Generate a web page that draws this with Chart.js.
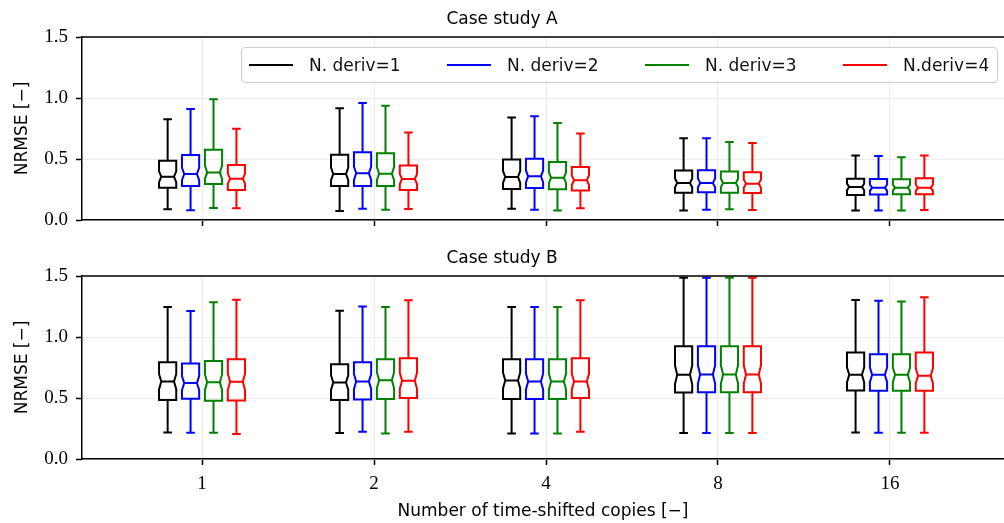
<!DOCTYPE html>
<html>
<head>
<meta charset="utf-8">
<script src="https://cdn.jsdelivr.net/npm/chart.js@4.4.1/dist/chart.umd.min.js"></script>
<style>
  body { margin: 0; background: #fff; }
  #wrap { position: relative; width: 1004px; height: 523px; overflow: hidden; }
  #wrap canvas { position: absolute; left: 0; }
  #legend {
    position: absolute; left: 241px; top: 47px; width: 757px; height: 36px;
    box-sizing: border-box; border: 1px solid #cfcfcf; border-radius: 4px;
    background: rgba(255,255,255,0.8);
    font-family: "DejaVu Sans", sans-serif; font-size: 17px; color: #111;
  }
  .item { position: absolute; top: 0; height: 34px; display: flex; align-items: center; }
  .item span.line { display: inline-block; width: 44px; height: 2px; margin-right: 16px; }
</style>
</head>
<body>
<div id="wrap">
  <canvas id="chartA" width="1004" height="240" style="top:0"></canvas>
  <canvas id="chartB" width="1004" height="283" style="top:240px"></canvas>
  <div id="legend"></div>
</div>
<script>
const copies = ['1', '2', '4', '8', '16'];
const seriesNames = ['N. deriv=1', 'N. deriv=2', 'N. deriv=3', 'N.deriv=4'];
const seriesColors = ['#000000', '#0000ff', '#008000', '#ff0000'];

// Case study A, one row per series, one column per group (1, 2, 4, 8, 16)
const aLow = [
  [0.088, 0.074, 0.093, 0.077, 0.077],
  [0.080, 0.093, 0.085, 0.085, 0.077],
  [0.098, 0.085, 0.077, 0.088, 0.077],
  [0.096, 0.090, 0.096, 0.082, 0.082]
];
const aQ1 = [
  [0.265, 0.279, 0.254, 0.224, 0.205],
  [0.279, 0.279, 0.263, 0.227, 0.208],
  [0.296, 0.279, 0.252, 0.224, 0.211],
  [0.246, 0.246, 0.241, 0.222, 0.211]
];
const aMed = [
  [0.355, 0.378, 0.353, 0.304, 0.271],
  [0.377, 0.383, 0.358, 0.304, 0.265],
  [0.390, 0.380, 0.347, 0.304, 0.265],
  [0.339, 0.336, 0.326, 0.298, 0.265]
];
const aQ3 = [
  [0.486, 0.534, 0.495, 0.405, 0.339],
  [0.533, 0.556, 0.503, 0.408, 0.337],
  [0.575, 0.547, 0.476, 0.397, 0.334],
  [0.451, 0.446, 0.435, 0.392, 0.342]
];
const aHigh = [
  [0.825, 0.917, 0.840, 0.670, 0.528],
  [0.910, 0.960, 0.851, 0.670, 0.525],
  [0.990, 0.936, 0.796, 0.640, 0.514],
  [0.747, 0.717, 0.709, 0.632, 0.528]
];

// Case study B
const bLow = [
  [0.218, 0.213, 0.210, 0.213, 0.218],
  [0.215, 0.224, 0.210, 0.213, 0.215],
  [0.215, 0.210, 0.210, 0.213, 0.215],
  [0.205, 0.224, 0.224, 0.213, 0.215]
];
const bQ1 = [
  [0.483, 0.483, 0.491, 0.545, 0.562],
  [0.494, 0.488, 0.491, 0.548, 0.559],
  [0.477, 0.491, 0.491, 0.548, 0.559],
  [0.480, 0.499, 0.499, 0.548, 0.559]
];
const bMed = [
  [0.635, 0.627, 0.644, 0.690, 0.690],
  [0.622, 0.635, 0.635, 0.693, 0.690],
  [0.630, 0.646, 0.635, 0.693, 0.690],
  [0.633, 0.641, 0.635, 0.693, 0.682]
];
const bQ3 = [
  [0.794, 0.777, 0.818, 0.924, 0.873],
  [0.783, 0.794, 0.818, 0.924, 0.859],
  [0.804, 0.818, 0.818, 0.924, 0.859],
  [0.818, 0.826, 0.826, 0.924, 0.873]
];
const bHigh = [
  [1.246, 1.216, 1.246, 1.486, 1.304],
  [1.214, 1.249, 1.246, 1.486, 1.298],
  [1.284, 1.246, 1.246, 1.486, 1.290],
  [1.306, 1.301, 1.301, 1.486, 1.325]
];

const yTicks = [0, 0.5, 1.0, 1.5];

// box placement inside a group (x units)
const seriesOffsets = [-0.2, -0.0667, 0.0667, 0.2];
const boxWidth = 0.1;
const capWidth = 0.05;
const notchFactor = 0.2;

const sansFont = { family: '"DejaVu Sans", sans-serif', size: 17 };
const serifFont = { family: '"Liberation Serif", serif', size: 19 };

// draws notched boxes with the chart's own scales
const notchedBoxes = {
  id: 'notchedBoxes',
  afterDatasetsDraw(chart) {
    const { ctx, scales: { x, y }, chartArea } = chart;
    ctx.save();
    chart.data.datasets.forEach(ds => {
      ctx.strokeStyle = ds.borderColor;
      ctx.lineWidth = 2;
      ds.data.forEach(pt => {
        const b = pt.box;
        const cx = x.getPixelForValue(pt.x);
        const left = x.getPixelForValue(pt.x - boxWidth / 2);
        const right = x.getPixelForValue(pt.x + boxWidth / 2);
        const capL = x.getPixelForValue(pt.x - capWidth / 2);
        const capR = x.getPixelForValue(pt.x + capWidth / 2);
        const inset = (right - left) * 0.13;
        const n = notchFactor * (b.q3 - b.q1);
        const yLo = y.getPixelForValue(b.lo), yHi = y.getPixelForValue(b.hi);
        const yQ1 = y.getPixelForValue(b.q1), yQ3 = y.getPixelForValue(b.q3);
        const yMed = y.getPixelForValue(b.med);
        const yN1 = y.getPixelForValue(Math.max(b.q1, b.med - n));
        const yN2 = y.getPixelForValue(Math.min(b.q3, b.med + n));

        ctx.beginPath();
        ctx.moveTo(left, yQ1);
        ctx.lineTo(left, yN1);
        ctx.lineTo(left + inset, yMed);
        ctx.lineTo(left, yN2);
        ctx.lineTo(left, yQ3);
        ctx.lineTo(right, yQ3);
        ctx.lineTo(right, yN2);
        ctx.lineTo(right - inset, yMed);
        ctx.lineTo(right, yN1);
        ctx.lineTo(right, yQ1);
        ctx.closePath();
        ctx.stroke();

        ctx.beginPath();
        ctx.moveTo(left + inset, yMed); ctx.lineTo(right - inset, yMed);
        ctx.moveTo(cx, yQ3); ctx.lineTo(cx, yHi);
        ctx.moveTo(cx, yQ1); ctx.lineTo(cx, yLo);
        ctx.moveTo(capL, yHi); ctx.lineTo(capR, yHi);
        ctx.moveTo(capL, yLo); ctx.lineTo(capR, yLo);
        ctx.stroke();
      });
    });
    // top spine
    ctx.strokeStyle = '#000';
    ctx.lineWidth = 1.5;
    ctx.beginPath();
    ctx.moveTo(chartArea.left, chartArea.top);
    ctx.lineTo(chartArea.right, chartArea.top);
    ctx.stroke();
    ctx.restore();
  }
};

function buildDatasets(low, q1, med, q3, high) {
  return seriesNames.map((name, s) => ({
    label: name,
    borderColor: seriesColors[s],
    backgroundColor: seriesColors[s],
    pointRadius: 0,
    data: copies.map((c, g) => ({
      x: g + 1 + seriesOffsets[s],
      y: med[s][g],
      box: { lo: low[s][g], q1: q1[s][g], med: med[s][g], q3: q3[s][g], hi: high[s][g] }
    }))
  }));
}

function makeChart(id, title, datasets, showXLabels) {
  return new Chart(document.getElementById(id), {
    type: 'scatter',
    data: { datasets },
    plugins: [notchedBoxes],
    options: {
      responsive: false,
      animation: false,
      layout: { padding: 0 },
      plugins: {
        legend: { display: false },
        tooltip: { enabled: false },
        title: {
          display: true,
          text: title,
          color: '#000',
          font: { ...sansFont, weight: 'normal' },
          padding: { top: showXLabels ? 8 : 9, bottom: 7.6 }
        }
      },
      scales: {
        x: {
          type: 'linear',
          min: 0.302,
          max: 5.663,
          afterBuildTicks: axis => { axis.ticks = copies.map((c, i) => ({ value: i + 1 })); },
          afterFit: axis => { axis.height = showXLabels ? 64 : 20; },
          ticks: {
            display: showXLabels,
            autoSkip: false,
            maxRotation: 0,
            padding: 8,
            color: '#000',
            font: serifFont,
            callback: v => copies[v - 1]
          },
          grid: { color: '#ececec', lineWidth: 1, tickColor: '#000', tickLength: 6, tickWidth: 1.5 },
          border: { color: '#000', width: 1.5 },
          title: {
            display: showXLabels,
            text: 'Number of time-shifted copies [−]',
            color: '#000',
            font: sansFont,
            padding: { top: 0, bottom: 1 }
          }
        },
        y: {
          min: 0,
          max: 1.5,
          afterBuildTicks: axis => { axis.ticks = yTicks.map(v => ({ value: v })); },
          afterFit: axis => { axis.width = 82; },
          ticks: {
            padding: 8,
            color: '#000',
            font: serifFont,
            callback: v => v.toFixed(1)
          },
          grid: { color: '#ececec', lineWidth: 1, tickColor: '#000', tickLength: 6, tickWidth: 1.5 },
          border: { color: '#000', width: 1.5 },
          title: {
            display: true,
            text: 'NRMSE [−]',
            color: '#000',
            font: sansFont,
            padding: { top: 12, bottom: 0 }
          }
        }
      }
    }
  });
}

makeChart('chartA', 'Case study A', buildDatasets(aLow, aQ1, aMed, aQ3, aHigh), false);
makeChart('chartB', 'Case study B', buildDatasets(bLow, bQ1, bMed, bQ3, bHigh), true);

// legend inside the upper plot
const legend = document.getElementById('legend');
seriesNames.forEach((name, s) => {
  const item = document.createElement('div');
  item.className = 'item';
  item.style.left = (7 + s * 198) + 'px';
  item.innerHTML = `<span class="line" style="background:${seriesColors[s]}"></span><span>${name}</span>`;
  legend.appendChild(item);
});
</script>
</body>
</html>
